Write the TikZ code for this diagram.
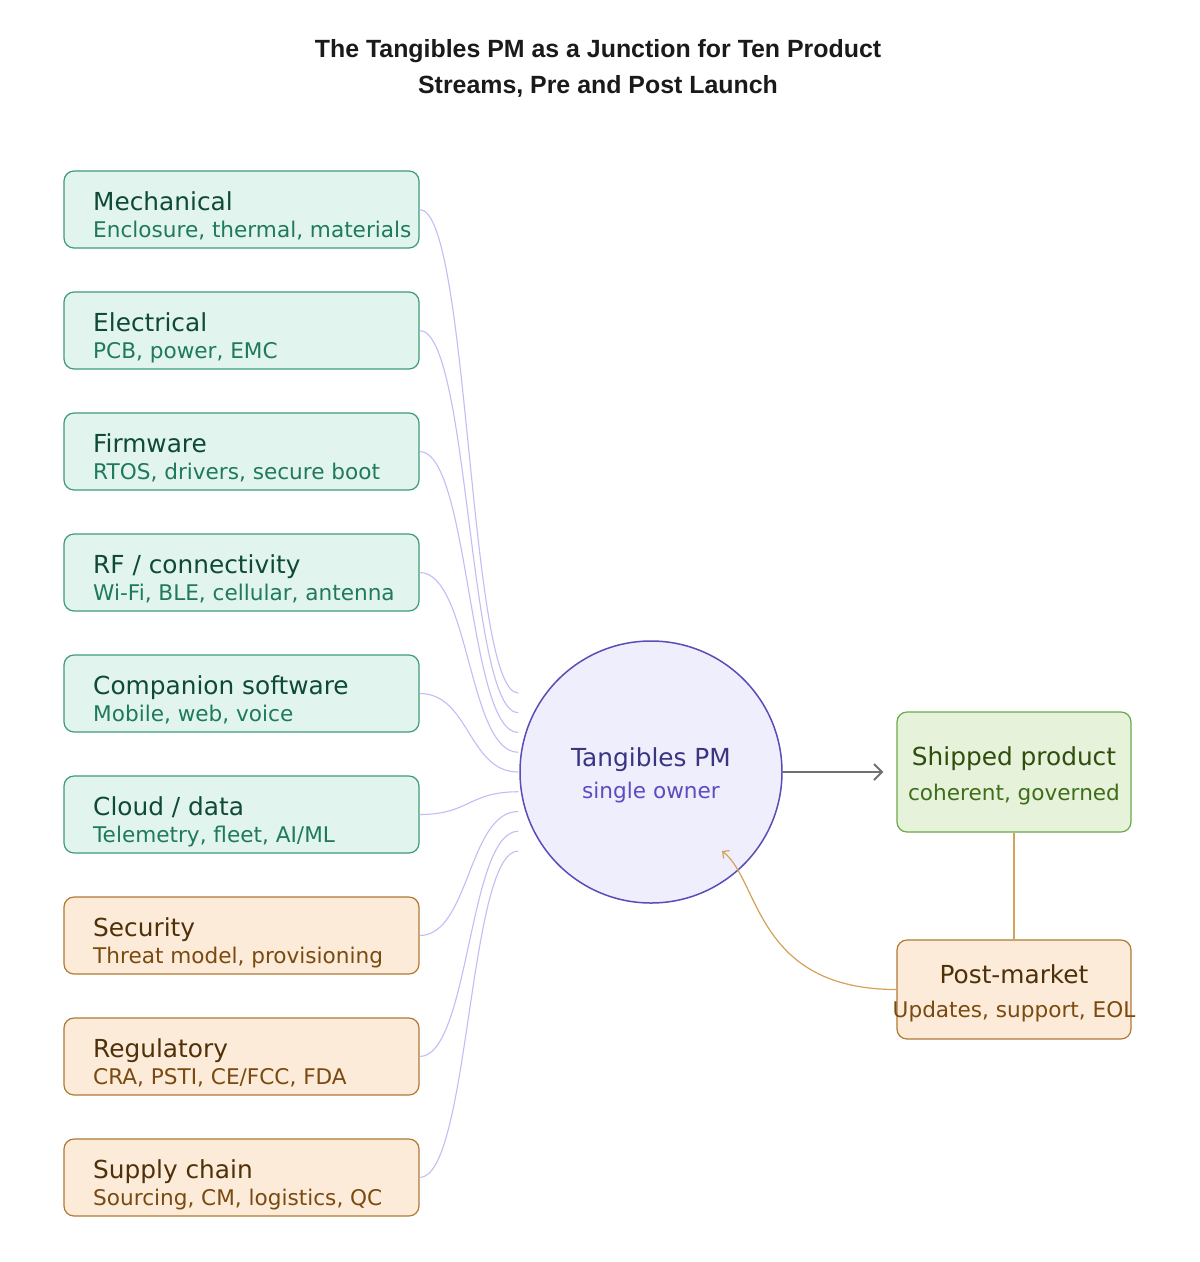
\documentclass[tikz,border=0pt]{standalone}
\usepackage{fontspec}
\setmainfont{DejaVu Sans}
\newfontfamily\headfont{Liberation Sans}
\usetikzlibrary{arrows.meta}
\definecolor{gfill}{HTML}{E1F5EE}
\definecolor{gline}{HTML}{3F9B78}
\definecolor{gtext}{HTML}{0E4A35}
\definecolor{gsubtext}{HTML}{1F7A5A}
\definecolor{ofill}{HTML}{FCEBD9}
\definecolor{oline}{HTML}{B07A35}
\definecolor{otext}{HTML}{4F3008}
\definecolor{osubtext}{HTML}{7A4A10}
\definecolor{cfill}{HTML}{EEEEFD}
\definecolor{cline}{HTML}{5B4CB8}
\definecolor{ctext}{HTML}{3B3480}
\definecolor{csubtext}{HTML}{5B4CC0}
\definecolor{sfill}{HTML}{E6F2D9}
\definecolor{sline}{HTML}{6AAA4A}
\definecolor{stext}{HTML}{2E4E0E}
\definecolor{ssubtext}{HTML}{3F6E1A}
\definecolor{lav}{HTML}{C5BCF5}
\definecolor{tan}{HTML}{D4A25A}
\definecolor{arrowgray}{HTML}{707070}
\definecolor{headcol}{HTML}{1A1A1A}
\newcommand\streambox[5]{%
  \node[#5box] (#1) at (241.5,#2+38.5) {};
  \node[#5title, anchor=base west] (#1t) at (93,#2+39) {#3};
  \node[#5sub, anchor=base west] (#1s) at (93,#2+66) {#4};
}
\begin{document}
\begin{tikzpicture}[x=1pt,y=-1pt,
  headtitle/.style={font=\headfont\bfseries\fontsize{24.9}{29}\selectfont, text=headcol, inner sep=0pt},
  basebox/.style={rounded corners=10pt, line width=1.2pt, minimum width=355pt, minimum height=77pt, inner sep=0pt},
  gbox/.style={basebox, draw=gline, fill=gfill},
  obox/.style={basebox, draw=oline, fill=ofill},
  bigtext/.style={font=\fontsize{24.8}{29}\selectfont, inner sep=0pt},
  smalltext/.style={font=\fontsize{21.6}{25}\selectfont, inner sep=0pt},
  gtitle/.style={bigtext, text=gtext},
  gsub/.style={smalltext, text=gsubtext},
  otitle/.style={bigtext, text=otext},
  osub/.style={smalltext, text=osubtext},
  pmcircle/.style={circle, draw=cline, fill=cfill, line width=1.5pt, minimum size=262pt, inner sep=0pt},
  conn/.style={draw=lav, line width=1.1pt},
  shipbox/.style={rounded corners=10pt, line width=1.2pt, draw=sline, fill=sfill, minimum width=234pt, minimum height=120pt, inner sep=0pt},
  postbox/.style={rounded corners=10pt, line width=1.2pt, draw=oline, fill=ofill, minimum width=234pt, minimum height=99pt, inner sep=0pt},
  ]
\useasboundingbox (0,0) rectangle (1200,1262);
\fill[white] (0,0) rectangle (1200,1262);

\node[headtitle, anchor=base] (head1) at (598,57) {The Tangibles PM as a Junction for Ten Product};
\node[headtitle, anchor=base] (head2) at (598,93) {Streams, Pre and Post Launch};

\streambox{mech}{171}{Mechanical}{Enclosure, thermal, materials}{g}
\streambox{elec}{292}{Electrical}{PCB, power, EMC}{g}
\streambox{firm}{413}{Firmware}{RTOS, drivers, secure boot}{g}
\streambox{rf}{534}{RF / connectivity}{Wi-Fi, BLE, cellular, antenna}{g}
\streambox{comp}{655}{Companion software}{Mobile, web, voice}{g}
\streambox{cloud}{776}{Cloud / data}{Telemetry, fleet, AI/ML}{g}
\streambox{sec}{897}{Security}{Threat model, provisioning}{o}
\streambox{reg}{1018}{Regulatory}{CRA, PSTI, CE/FCC, FDA}{o}
\streambox{supply}{1139}{Supply chain}{Sourcing, CM, logistics, QC}{o}

\node[pmcircle] (pm) at (651,772) {};
\node[bigtext, text=ctext, anchor=base] (pmt) at (651,766) {Tangibles PM};
\node[smalltext, text=csubtext, anchor=base] (pms) at (651,798) {single owner};

\foreach \n [count=\i] in {mech,elec,firm,rf,comp,cloud,sec,reg,supply} {
  \coordinate (in\i) at ([xshift=-1pt, yshift={(5-\i)*19.75}]pm.west);
  \draw[conn] (\n.east) .. controls +(50,0) and +(-50,0) .. (in\i);
}

\node[shipbox] (ship) at (1014,772) {};
\node[bigtext, text=stext, anchor=base] (shipt) at (1014,765) {Shipped product};
\node[smalltext, text=ssubtext, anchor=base] (ships) at (1014,800) {coherent, governed};

\node[postbox] (post) at (1014,989.5) {};
\node[bigtext, text=otext, anchor=base] (postt) at (1014,983) {Post-market};
\node[smalltext, text=osubtext, anchor=base] (posts) at (1014,1017) {Updates, support, EOL};

\coordinate (shipin) at ([xshift=-13pt]ship.west);
\draw[draw=arrowgray, line width=2pt, -{Straight Barb[length=8pt, width=16pt, line width=2pt]}] (pm.east) -- (shipin);

\draw[draw=tan, line width=1.2pt] (ship.south) -- (post.north);

\coordinate (pmback) at ([shift={(71pt,-79pt)}]pm.center);
\draw[draw=tan, line width=1.2pt, -{Straight Barb[length=5pt, width=10pt, line width=1.2pt]}] (post.west) .. controls (755,989.5) and (760,880) .. (pmback);
\end{tikzpicture}
\end{document}
